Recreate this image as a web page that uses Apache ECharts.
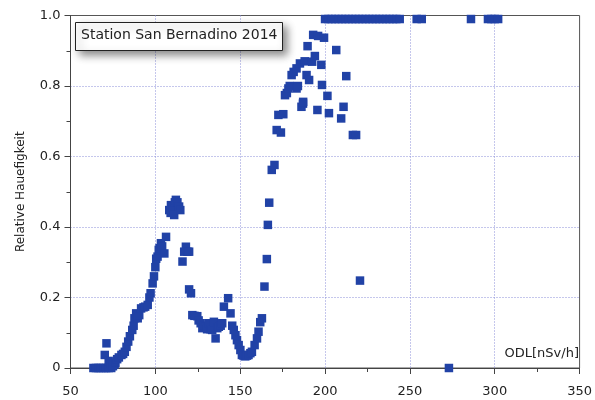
<!DOCTYPE html>
<html>
<head>
<meta charset="utf-8">
<script src="https://cdn.jsdelivr.net/npm/echarts@6/dist/echarts.min.js"></script>
<style>html,body{margin:0;padding:0;background:#fff}#c{width:595px;height:400px}</style>
</head>
<body>
<div id="c"></div>
<script>
// Relative frequency vs ODL (nSv/h)
var odlValues = [
  63.5,65,66.5,68,69.5,71,72.5,74,76,
  70.2,71.2,72.5,73.5,75,76.5,77.5,78.5,80,81,82,83,84,85,86.4,87.2,87.7,88.7,89.6,90.5,91.6,93,94,95.5,96.5,97.2,98.4,99.2,100,100.5,101.3,102,102.5,103.3,104,105.3,106.3,
  108.2,109,109.2,110,111.1,111.5,112.1,113,114,114.7,
  116,117,118,118.9,119.9,119.9,121,
  121.8,123,124.7,125.5,126.7,127.7,128.5,129.6,130.5,131.6,132.5,133.5,134.5,135.5,136.5,137.4,138.5,139.4,140.4,142.9,144.3,145.3,146.2,147.2,148.1,149.1,150.1,151,152,153,154,154.9,156,156.9,158.5,159.9,160.8,161.8,162.8,164.3,165.7,166.3,167.1,168.6,170.2,
  171.5,172.5,174,175.4,176.4,177.5,178.4,179.2,180.3,181.5,183.2,183.2,184,185.2,186.1,187,187.1,188,189.1,189.7,190.6,192.4,193,194,195.5,195.9,197.8,198.2,199.4,201.4,202.3,206.6,209.5,210.9,212.5,216.4,218.3,220.6,273,
  200,202,204,206,208,210,212,214,216,218,220,222,224,226,228,230,232,234,236,238,240,242,244,254,257,286,296,298,300,302
];
var relFreq = [
  0,0,0,0,0,0,0,0,0.01,
  0.037,0.07,0.02,0.012,0.005,0.015,0.025,0.03,0.037,0.04,0.046,0.06,0.075,0.09,0.108,0.12,0.141,0.155,0.141,0.15,0.169,0.172,0.174,0.179,0.2,0.212,0.24,0.26,0.286,0.31,0.316,0.335,0.34,0.354,0.345,0.325,0.372,
  0.448,0.44,0.462,0.455,0.434,0.47,0.477,0.47,0.458,0.448,
  0.302,0.33,0.344,0.33,0.33,0.223,0.212,
  0.15,0.148,0.147,0.135,0.127,0.113,0.12,0.117,0.11,0.127,0.11,0.108,0.131,0.084,0.113,0.117,0.12,0.127,0.174,0.198,0.155,0.12,0.108,0.093,0.079,0.065,0.051,0.037,0.035,0.033,0.035,0.037,0.042,0.046,0.065,0.084,0.103,0.13,0.141,0.231,0.309,0.406,0.469,0.562,0.576,
  0.675,0.718,0.668,0.72,0.774,0.78,0.793,0.8,0.831,0.84,0.85,0.793,0.8,0.864,0.741,0.75,0.755,0.87,0.831,0.913,0.817,0.869,0.945,0.885,0.732,0.942,0.86,0.803,0.937,0.772,0.723,0.902,0.708,0.741,0.828,0.661,0.661,0.248,0,
  0.99,0.99,0.99,0.99,0.99,0.99,0.99,0.99,0.99,0.99,0.99,0.99,0.99,0.99,0.99,0.99,0.99,0.99,0.99,0.99,0.99,0.99,0.99,0.99,0.99,0.99,0.99,0.99,0.99,0.99
];
var xTicks = [50,100,150,200,250,300,350];
var yTicks = [0,0.2,0.4,0.6,0.8,1.0];
var titleText = 'Station San Bernadino 2014';
var xName = 'ODL[nSv/h]';
var yName = 'Relative Hauefigkeit';

var pts = odlValues.map(function(x,i){return [x, relFreq[i]];});
var font = 'DejaVu Sans';
var chart = echarts.init(document.getElementById('c'), null, {renderer:'canvas'});
chart.setOption({
  animation:false,
  backgroundColor:'#fff',
  grid:{left:70.5, right:12, top:15.5, bottom:32, show:true, borderColor:'#555', borderWidth:1},
  xAxis:{
    type:'value', min:xTicks[0], max:xTicks[xTicks.length-1], interval:50,
    axisLine:{show:true, onZero:false, lineStyle:{color:'#444', width:1}},
    axisTick:{show:true, inside:false, length:6, lineStyle:{color:'#444'}},
    minorTick:{show:true, splitNumber:2, length:4, lineStyle:{color:'#444'}},
    axisLabel:{fontFamily:font, fontSize:13, color:'#222', margin:17},
    splitLine:{show:true, showMinLine:false, showMaxLine:false, lineStyle:{type:[1,2], color:'#8a8fd8', width:1}}
  },
  yAxis:{
    type:'value', min:0, max:1, interval:0.2,
    name:yName, nameLocation:'middle', nameGap:44, nameRotate:90,
    nameTextStyle:{fontFamily:font, fontSize:12, color:'#222'},
    axisLine:{show:true, lineStyle:{color:'#444', width:1}},
    axisTick:{show:true, inside:false, length:6, lineStyle:{color:'#444'}},
    minorTick:{show:true, splitNumber:2, length:4, lineStyle:{color:'#444'}},
    axisLabel:{fontFamily:font, fontSize:13, color:'#222', margin:10,
      formatter:function(v){return v===0?'0':v.toFixed(1);}},
    splitLine:{show:true, showMinLine:false, showMaxLine:false, lineStyle:{type:[1,2], color:'#8a8fd8', width:1}}
  },
  series:[{
    type:'scatter', data:pts, symbol:'rect', symbolSize:8.5,
    itemStyle:{color:'#2142a6', opacity:1}, clip:false
  }],
  graphic:[
    {type:'rect', left:75, top:22, z:10,
      shape:{width:207, height:28},
      style:{fill:'#fff', stroke:'#222', lineWidth:1, shadowBlur:8, shadowOffsetX:4, shadowOffsetY:4, shadowColor:'rgba(0,0,0,0.45)'}},
    {type:'text', left:81, top:28, z:11,
      style:{text:titleText, font:'14px "DejaVu Sans"', fill:'#222'}},
    {type:'text', right:16, top:347, z:11,
      style:{text:xName, font:'13px "DejaVu Sans"', fill:'#222'}}
  ]
});
</script>
</body>
</html>
